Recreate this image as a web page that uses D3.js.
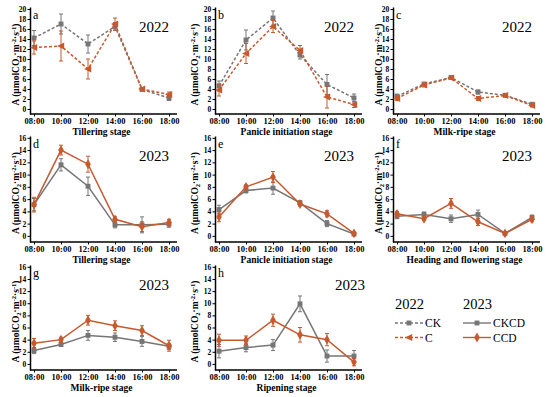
<!DOCTYPE html>
<html lang="en">
<head>
<meta charset="UTF-8">
<title>Net photosynthetic rate</title>
<script src="https://d3js.org/d3.v7.min.js"></script>
<style>
  body { margin: 0; background: #fff; }
  svg { display: block; }
  .tick text { font-family: "Liberation Serif", serif; font-weight: bold; fill: #000; }
  .domain, .tick line { stroke: #000; }
</style>
</head>
<body>
<script>
// time points on the x axis
var times = ["08:00", "10:00", "12:00", "14:00", "16:00", "18:00"];
var hours = [8, 10, 12, 14, 16, 18];

var letters = ["a", "b", "c", "d", "e", "f", "g", "h"];
var years = ["2022", "2022", "2022", "2023", "2023", "2023", "2023", "2023"];
var stages = ["Tillering stage", "Panicle initiation stage", "Milk-ripe stage",
  "Tillering stage", "Panicle initiation stage", "Heading and flowering stage",
  "Milk-ripe stage", "Ripening  stage"];

// 2022: CK and C (mean, error)
var ckA = [14.2, 17.0, 13.0, 16.5, 3.9, 2.2], ckAsd = [1.5, 2.0, 1.8, 0.8, 0.3, 0.5];
var cA = [12.3, 12.6, 8.0, 17.0, 4.0, 2.9], cAsd = [1.3, 3.0, 2.0, 1.2, 0.3, 0.5];
var ckB = [4.6, 13.8, 18.2, 10.8, 4.9, 2.2], ckBsd = [1.0, 2.0, 1.4, 0.8, 2.0, 0.8];
var cB = [3.8, 11.1, 16.5, 11.7, 2.4, 0.9], cBsd = [1.2, 2.0, 1.2, 1.0, 2.2, 0.6];
var ckC = [2.55, 5.0, 6.3, 3.4, 2.75, 0.95], ckCsd = [0.4, 0.3, 0.3, 0.4, 0.3, 0.3];
var cC = [2.1, 4.8, 6.2, 2.1, 2.7, 0.7], cCsd = [0.4, 0.4, 0.3, 0.4, 0.3, 0.3];

// 2023: CKCD and CCD (mean, error)
var ckcdD = [5.1, 11.6, 8.1, 1.8, 1.8, 1.9], ckcdDsd = [1.0, 1.0, 1.5, 0.5, 1.3, 0.5];
var ccdD = [5.1, 14.0, 11.7, 2.7, 1.5, 2.2], ccdDsd = [1.2, 0.8, 1.3, 0.4, 0.8, 0.5];
var ckcdE = [4.3, 7.4, 7.8, 5.4, 2.0, 0.3], ckcdEsd = [0.7, 0.4, 1.0, 0.3, 0.5, 0.2];
var ccdE = [3.1, 8.0, 9.6, 5.2, 3.6, 0.4], ccdEsd = [0.8, 0.3, 0.9, 0.3, 0.5, 0.2];
var ckcdF = [3.2, 3.5, 2.8, 3.5, 0.4, 3.0], ckcdFsd = [0.4, 0.4, 0.6, 0.7, 0.2, 0.4];
var ccdF = [3.6, 2.8, 5.3, 2.3, 0.4, 2.7], ccdFsd = [0.4, 0.3, 0.8, 0.6, 0.2, 0.4];
var ckcdG = [2.2, 3.2, 4.7, 4.4, 3.7, 2.9], ckcdGsd = [0.5, 0.3, 0.8, 0.7, 0.8, 0.5];
var ccdG = [3.4, 4.0, 7.2, 6.3, 5.5, 3.0], ccdGsd = [0.8, 0.4, 0.8, 0.8, 0.8, 0.9];
var ckcdH = [2.1, 2.7, 3.1, 9.9, 1.3, 1.3], ckcdHsd = [1.1, 0.7, 0.9, 1.3, 1.0, 0.9];
var ccdH = [3.9, 3.9, 7.2, 4.8, 4.0, 0.3], ccdHsd = [1.0, 0.7, 1.0, 1.2, 1.0, 0.6];

var grey = "#767676", red = "#c65a2e";

// which series go in which panel
var panelSeries = [
  [[ckA, ckAsd], [cA, cAsd]],
  [[ckB, ckBsd], [cB, cBsd]],
  [[ckC, ckCsd], [cC, cCsd]],
  [[ckcdD, ckcdDsd], [ccdD, ccdDsd]],
  [[ckcdE, ckcdEsd], [ccdE, ccdEsd]],
  [[ckcdF, ckcdFsd], [ccdF, ccdFsd]],
  [[ckcdG, ckcdGsd], [ccdG, ccdGsd]],
  [[ckcdH, ckcdHsd], [ccdH, ccdHsd]]
];

// layout: left edge of each column, top/bottom of each row
var colX = [30, 215, 393];
var titleX = [18.5, 198, 381.5];
var rows = [
  {top: 7, bottom: 114, max: 20.4, ticks: d3.range(0, 21, 2)},
  {top: 136, bottom: 242, max: 16.3, ticks: d3.range(0, 17, 2)},
  {top: 265, bottom: 370, max: 16.3, ticks: d3.range(0, 17, 2)}
];
var plotW = 147;

var svg = d3.select("body").append("svg")
  .attr("width", 550).attr("height", 397);

var triLeft = {
  draw: function(ctx, size) {
    var r = Math.sqrt(size) * 0.7;
    ctx.moveTo(-r, 0);
    ctx.lineTo(r * 0.8, -r * 0.9);
    ctx.lineTo(r * 0.8, r * 0.9);
    ctx.closePath();
  }
};

function markerPath(yearIdx, s) {
  if (s === 0) return d3.symbol(d3.symbolSquare, 24)();
  if (yearIdx === 0) return d3.symbol(triLeft, 32)();
  return d3.symbol(d3.symbolDiamond, 28)();
}

panelSeries.forEach(function(series, i) {
  var col = i % 3, row = Math.floor(i / 3);
  var R = rows[row];
  var x0 = colX[col];
  var yearIdx = i < 3 ? 0 : 1;

  var x = d3.scaleLinear().domain([8, 18]).range([x0 + 4, x0 + 139]);
  var y = d3.scaleLinear().domain([-1, R.max]).range([R.bottom, R.top]);

  var g = svg.append("g");

  // axes
  g.append("g")
    .attr("transform", "translate(" + x0 + ",0)")
    .call(d3.axisLeft(y).tickValues(R.ticks).tickSize(2.5).tickPadding(1.2).tickSizeOuter(0))
    .call(function(a) {
      a.select(".domain").attr("stroke-width", 1.5);
      a.selectAll(".tick text").style("font-size", "7.5px");
    });

  g.append("g")
    .attr("transform", "translate(0," + R.bottom + ")")
    .call(d3.axisBottom(x).tickValues(hours).tickFormat(function(d, k) { return times[k]; })
      .tickSize(2.5).tickPadding(1.5).tickSizeOuter(0))
    .call(function(a) {
      a.select(".domain").attr("d", "M" + x0 + ",0H" + (x0 + plotW)).attr("stroke-width", 1.5);
      a.selectAll(".tick text").style("font-size", "8.5px");
    });

  // titles
  g.append("text")
    .attr("x", x(13)).attr("y", R.bottom + 20.5)
    .attr("text-anchor", "middle")
    .style("font-family", "Liberation Serif, serif").style("font-weight", "bold")
    .style("font-size", "9.5px")
    .text(stages[i]);

  var yt = g.append("text")
    .attr("transform", "translate(" + titleX[col] + "," + ((R.top + R.bottom) / 2 + 4) + ") rotate(-90)")
    .attr("text-anchor", "middle")
    .style("font-family", "Liberation Serif, serif").style("font-weight", "bold")
    .style("font-size", "9.5px");
  yt.append("tspan").text("A (μmolCO");
  yt.append("tspan").attr("baseline-shift", "-25%").style("font-size", "6.5px").text("2");
  yt.append("tspan").text("·m");
  yt.append("tspan").attr("baseline-shift", "45%").style("font-size", "6.5px").text("-2");
  yt.append("tspan").text("·s");
  yt.append("tspan").attr("baseline-shift", "45%").style("font-size", "6.5px").text("-1");
  yt.append("tspan").text(")");

  g.append("text")
    .attr("x", x0 + 3).attr("y", R.top + 12)
    .style("font-family", "Liberation Serif, serif").style("font-size", "12px")
    .text(letters[i]);

  g.append("text")
    .attr("x", x0 + (i === 7 ? 150 : 139)).attr("y", R.top + 25)
    .attr("text-anchor", "end")
    .style("font-family", "Liberation Serif, serif").style("font-size", "15px")
    .text(years[i]);

  // series
  series.forEach(function(sr, s) {
    var mean = sr[0], sd = sr[1];
    var color = s === 0 ? grey : red;
    var pts = mean.map(function(v, k) { return {h: hours[k], v: v, e: sd[k]}; });

    g.append("path")
      .datum(pts)
      .attr("fill", "none")
      .attr("stroke", color)
      .attr("stroke-width", 1.5)
      .attr("stroke-dasharray", yearIdx === 0 ? "3,2" : null)
      .attr("d", d3.line().x(function(d) { return x(d.h); }).y(function(d) { return y(d.v); }));

    var eb = g.selectAll(null).data(pts).enter().append("g").attr("stroke", color).attr("stroke-width", 1);
    eb.append("line")
      .attr("x1", function(d) { return x(d.h); }).attr("x2", function(d) { return x(d.h); })
      .attr("y1", function(d) { return y(d.v - d.e); }).attr("y2", function(d) { return y(d.v + d.e); });
    eb.append("line")
      .attr("x1", function(d) { return x(d.h) - 2; }).attr("x2", function(d) { return x(d.h) + 2; })
      .attr("y1", function(d) { return y(d.v + d.e); }).attr("y2", function(d) { return y(d.v + d.e); });
    eb.append("line")
      .attr("x1", function(d) { return x(d.h) - 2; }).attr("x2", function(d) { return x(d.h) + 2; })
      .attr("y1", function(d) { return y(d.v - d.e); }).attr("y2", function(d) { return y(d.v - d.e); });

    g.selectAll(null).data(pts).enter().append("path")
      .attr("transform", function(d) { return "translate(" + x(d.h) + "," + y(d.v) + ")"; })
      .attr("d", markerPath(yearIdx, s))
      .attr("fill", color);
  });
});

// legend
var legendGroups = [
  {x: 395, year: "2022", names: ["CK", "C"], dashed: true, yi: 0},
  {x: 463, year: "2023", names: ["CKCD", "CCD"], dashed: false, yi: 1}
];
legendGroups.forEach(function(L) {
  var lg = svg.append("g");
  lg.append("text").attr("x", L.x).attr("y", 309)
    .style("font-family", "Liberation Serif, serif").style("font-size", "14.5px")
    .text(L.year);
  L.names.forEach(function(n, s) {
    var cy = 323 + s * 14.5;
    var color = s === 0 ? grey : red;
    lg.append("line").attr("x1", L.x).attr("x2", L.x + 28).attr("y1", cy).attr("y2", cy)
      .attr("stroke", color).attr("stroke-width", 1.4)
      .attr("stroke-dasharray", L.dashed ? "3,2" : null);
    lg.append("path").attr("transform", "translate(" + (L.x + 14) + "," + cy + ")")
      .attr("d", markerPath(L.yi, s)).attr("fill", color);
    lg.append("text").attr("x", L.x + 30).attr("y", cy + 4)
      .style("font-family", "Liberation Serif, serif").style("font-size", "11.5px")
      .text(n);
  });
});
</script>
</body>
</html>
